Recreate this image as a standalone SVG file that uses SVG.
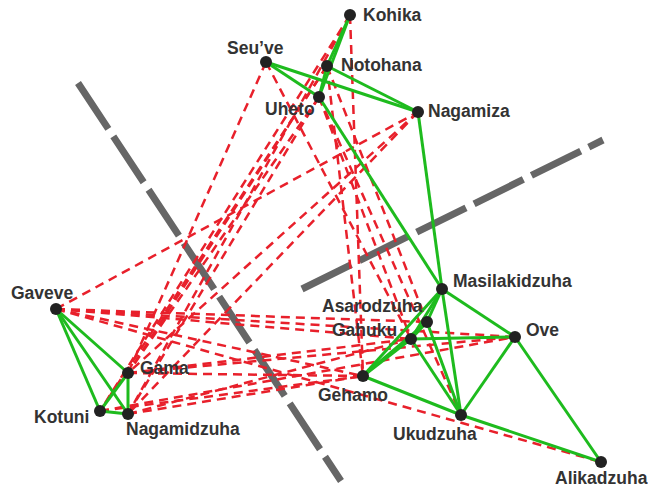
<svg xmlns="http://www.w3.org/2000/svg" width="648" height="489" viewBox="0 0 648 489">
<style>
.bg{fill:#ffffff}
.axis{stroke:#666666;stroke-width:7;stroke-dasharray:55,9;fill:none}
.neg{stroke:#e8202b;stroke-width:2.5;stroke-dasharray:9,6;fill:none}
.pos{stroke:#1ebb1e;stroke-width:3;fill:none}
.node circle{fill:#222222}
.node text{font-family:"Liberation Sans",Arial,sans-serif;font-weight:bold;font-size:17.5px;fill:#333333}
</style>
<rect class="bg" x="0" y="0" width="648" height="489"/>
<g id="axes">
<line class="axis" x1="78" y1="83" x2="341" y2="481"/>
<line class="axis" x1="302" y1="289" x2="603" y2="140"/>
</g>
<g id="connectors">
<g id="negative">
<line class="neg" x1="56" y1="309" x2="418" y2="112"/>
<line class="neg" x1="56" y1="309" x2="427" y2="322"/>
<line class="neg" x1="56" y1="309" x2="411" y2="339"/>
<line class="neg" x1="56" y1="309" x2="515" y2="337"/>
<line class="neg" x1="56" y1="309" x2="363" y2="376"/>
<line class="neg" x1="56" y1="309" x2="601" y2="462"/>
<line class="neg" x1="128" y1="373" x2="363" y2="376"/>
<line class="neg" x1="128" y1="373" x2="411" y2="339"/>
<line class="neg" x1="128" y1="373" x2="515" y2="337"/>
<line class="neg" x1="100" y1="411" x2="363" y2="376"/>
<line class="neg" x1="100" y1="411" x2="515" y2="337"/>
<line class="neg" x1="128" y1="414" x2="363" y2="376"/>
<line class="neg" x1="128" y1="414" x2="411" y2="339"/>
<line class="neg" x1="350" y1="15" x2="128" y2="414"/>
<line class="neg" x1="350" y1="15" x2="100" y2="411"/>
<line class="neg" x1="327" y1="66" x2="128" y2="373"/>
<line class="neg" x1="327" y1="66" x2="100" y2="411"/>
<line class="neg" x1="319" y1="97" x2="128" y2="373"/>
<line class="neg" x1="319" y1="97" x2="128" y2="414"/>
<line class="neg" x1="266" y1="62" x2="128" y2="373"/>
<line class="neg" x1="418" y1="112" x2="128" y2="373"/>
<line class="neg" x1="418" y1="112" x2="128" y2="414"/>
<line class="neg" x1="350" y1="15" x2="363" y2="376"/>
<line class="neg" x1="327" y1="66" x2="363" y2="376"/>
<line class="neg" x1="327" y1="66" x2="427" y2="322"/>
<line class="neg" x1="319" y1="97" x2="461" y2="415"/>
<line class="neg" x1="319" y1="97" x2="411" y2="339"/>
<line class="neg" x1="266" y1="62" x2="411" y2="339"/>
</g>
<g id="positive">
<line class="pos" x1="56" y1="309" x2="128" y2="373"/>
<line class="pos" x1="56" y1="309" x2="100" y2="411"/>
<line class="pos" x1="56" y1="309" x2="128" y2="414"/>
<line class="pos" x1="128" y1="373" x2="100" y2="411"/>
<line class="pos" x1="128" y1="373" x2="128" y2="414"/>
<line class="pos" x1="100" y1="411" x2="128" y2="414"/>
<line class="pos" x1="350" y1="15" x2="327" y2="66"/>
<line class="pos" x1="350" y1="15" x2="319" y2="97"/>
<line class="pos" x1="327" y1="66" x2="319" y2="97"/>
<line class="pos" x1="266" y1="62" x2="319" y2="97"/>
<line class="pos" x1="266" y1="62" x2="418" y2="112"/>
<line class="pos" x1="327" y1="66" x2="418" y2="112"/>
<line class="pos" x1="319" y1="97" x2="442" y2="289"/>
<line class="pos" x1="418" y1="112" x2="442" y2="289"/>
<line class="pos" x1="442" y1="289" x2="427" y2="322"/>
<line class="pos" x1="442" y1="289" x2="411" y2="339"/>
<line class="pos" x1="442" y1="289" x2="363" y2="376"/>
<line class="pos" x1="442" y1="289" x2="515" y2="337"/>
<line class="pos" x1="442" y1="289" x2="461" y2="415"/>
<line class="pos" x1="427" y1="322" x2="363" y2="376"/>
<line class="pos" x1="427" y1="322" x2="461" y2="415"/>
<line class="pos" x1="427" y1="322" x2="411" y2="339"/>
<line class="pos" x1="411" y1="339" x2="363" y2="376"/>
<line class="pos" x1="411" y1="339" x2="515" y2="337"/>
<line class="pos" x1="411" y1="339" x2="461" y2="415"/>
<line class="pos" x1="515" y1="337" x2="461" y2="415"/>
<line class="pos" x1="515" y1="337" x2="601" y2="462"/>
<line class="pos" x1="363" y1="376" x2="461" y2="415"/>
<line class="pos" x1="461" y1="415" x2="601" y2="462"/>
</g>
</g>
<g id="kohika" class="node"><circle cx="350" cy="15" r="6"/><text x="363" y="21">Kohika</text></g>
<g id="seuve" class="node"><circle cx="266" cy="62" r="6"/><text x="227" y="54">Seu’ve</text></g>
<g id="notohana" class="node"><circle cx="327" cy="66" r="6"/><text x="341" y="71">Notohana</text></g>
<g id="uheto" class="node"><circle cx="319" cy="97" r="6"/><text x="265" y="115">Uheto</text></g>
<g id="nagamiza" class="node"><circle cx="418" cy="112" r="6"/><text x="428" y="117">Nagamiza</text></g>
<g id="gaveve" class="node"><circle cx="56" cy="309" r="6"/><text x="11" y="299">Gaveve</text></g>
<g id="gama" class="node"><circle cx="128" cy="373" r="6"/><text x="140" y="374">Gama</text></g>
<g id="kotuni" class="node"><circle cx="100" cy="411" r="6"/><text x="34" y="423">Kotuni</text></g>
<g id="nagamidzuha" class="node"><circle cx="128" cy="414" r="6"/><text x="126" y="435">Nagamidzuha</text></g>
<g id="masilakidzuha" class="node"><circle cx="442" cy="289" r="6"/><text x="453" y="287">Masilakidzuha</text></g>
<g id="asarodzuha" class="node"><circle cx="427" cy="322" r="6"/><text x="322" y="312">Asarodzuha</text></g>
<g id="gahuku" class="node"><circle cx="411" cy="339" r="6"/><text x="332" y="336">Gahuku</text></g>
<g id="ove" class="node"><circle cx="515" cy="337" r="6"/><text x="526" y="336">Ove</text></g>
<g id="gehamo" class="node"><circle cx="363" cy="376" r="6"/><text x="318" y="401">Gehamo</text></g>
<g id="ukudzuha" class="node"><circle cx="461" cy="415" r="6"/><text x="393" y="440">Ukudzuha</text></g>
<g id="alikadzuha" class="node"><circle cx="601" cy="462" r="6"/><text x="555" y="484">Alikadzuha</text></g>
</svg>
